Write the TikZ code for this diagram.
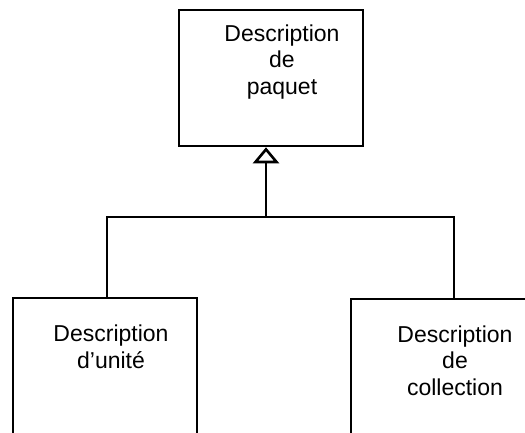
\documentclass[tikz,border=0pt]{standalone}
\usepackage{fontspec}
\setmainfont{Liberation Sans}
\usetikzlibrary{arrows.meta}
\begin{document}
\begin{tikzpicture}[x=1pt,y=-1pt,
  box/.style={draw=black, line width=2.6pt, minimum width=#1, inner sep=0pt},
  lbl/.style={anchor=base, align=center, inner sep=0pt, font=\fontsize{23}{26.5}\selectfont},
  conn/.style={draw=black, line width=2.6pt}
]
\clip (0,0) rectangle (525,432);
\useasboundingbox (0,0) rectangle (525,432);
\node[box=184pt, minimum height=136pt] (tb) at (271,78) {};
\node[box=184pt, minimum height=160pt] (lb) at (105,378) {};
\node[box=206pt, minimum height=160pt] (rb) at (454,379) {};
\node[lbl] (tt) at (282,94) {Description\\de\\paquet};
\node[lbl] (lt) at (111,368) {Description\\d’unité};
\node[lbl] (rt) at (455,395) {Description\\de\\collection};
\coordinate (jn) at (266,217);
\draw[conn] ([xshift=2pt]lb.north) |- (jn) -| (rb.north);
\draw[conn, -{Triangle[open, length=16pt, width=26pt, line width=2.6pt]}] (jn) -- ([xshift=-5pt]tb.south);
\end{tikzpicture}
\end{document}
